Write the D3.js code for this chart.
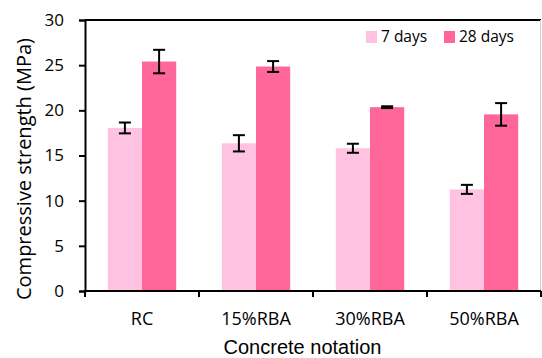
<!DOCTYPE html>
<html>
<head>
<meta charset="utf-8">
<script src="https://cdn.jsdelivr.net/npm/d3@7"></script>
<style>
  body { margin: 0; background: #fff; }
  svg { display: block; }
</style>
</head>
<body>
<svg id="chart" width="542" height="358"></svg>
<script>
// data
const categories = ["RC", "15%RBA", "30%RBA", "50%RBA"];
const seriesNames = ["7 days", "28 days"];
const days7 = [18.05, 16.35, 15.8, 11.25];
const days28 = [25.4, 24.85, 20.35, 19.55];
const err7 = [0.6, 0.9, 0.5, 0.5];
const err28 = [1.3, 0.6, 0.1, 1.25];
const yTicks = [0, 5, 10, 15, 20, 25, 30];
const colors = ["#ffc2e0", "#ff6699"];

const width = 542, height = 358;
const margin = { top: 20, right: 1, bottom: 67, left: 85 };

const svg = d3.select("#chart");

let x = d3.scaleBand().domain(categories).range([margin.left, width - margin.right]).paddingInner(0.4).paddingOuter(0.2);
let xs = d3.scaleBand().domain(seriesNames).range([0, x.bandwidth()]);
let y = d3.scaleLinear().domain([0, 30]).range([height - margin.bottom, margin.top]);

let rows = categories.map((c, i) => ({
  cat: c,
  vals: [
    { s: seriesNames[0], v: days7[i], e: err7[i] },
    { s: seriesNames[1], v: days28[i], e: err28[i] }
  ]
}));

// frame: top line black, right line light grey
svg.append("line").attr("x1", margin.left).attr("x2", width - margin.right)
  .attr("y1", margin.top).attr("y2", margin.top).attr("stroke", "#000").attr("stroke-width", 2);
svg.append("line").attr("x1", width - margin.right - 0.5).attr("x2", width - margin.right - 0.5)
  .attr("y1", margin.top).attr("y2", y(0)).attr("stroke", "#d0d0d0").attr("stroke-width", 1);

// bars
let groups = svg.append("g").selectAll("g").data(rows).join("g")
  .attr("transform", d => `translate(${x(d.cat)},0)`);

groups.selectAll("rect").data(d => d.vals).join("rect")
  .attr("x", d => xs(d.s))
  .attr("y", d => y(d.v))
  .attr("width", xs.bandwidth())
  .attr("height", d => y(0) - y(d.v))
  .attr("fill", (d, i) => colors[i]);

// error bars
let eb = groups.selectAll("g.err").data(d => d.vals).join("g").attr("class", "err")
  .attr("transform", d => `translate(${xs(d.s) + xs.bandwidth() / 2},0)`)
  .attr("stroke", "#000").attr("stroke-width", 2);
eb.append("line").attr("x1", 0).attr("x2", 0).attr("y1", d => y(d.v + d.e)).attr("y2", d => y(d.v - d.e));
eb.append("line").attr("x1", -6).attr("x2", 6).attr("y1", d => y(d.v + d.e)).attr("y2", d => y(d.v + d.e));
eb.append("line").attr("x1", -6).attr("x2", 6).attr("y1", d => y(d.v - d.e)).attr("y2", d => y(d.v - d.e));

// y axis
let yAxis = g => g.attr("transform", `translate(${margin.left},0)`)
  .call(d3.axisLeft(y).tickValues(yTicks).tickSize(6).tickPadding(15))
  .call(g => g.selectAll("path,line").attr("stroke", "#000").attr("stroke-width", 2))
  .call(g => g.selectAll("text").attr("font-family", "Open Sans").attr("font-size", 17).attr("fill", "#000"));
svg.append("g").call(yAxis);

// x axis: ticks at band edges, labels at band centres
let edges = categories.map(c => x(c) - x.step() * x.paddingInner() / 2).concat([width - margin.right]);
svg.append("line").attr("x1", margin.left - 1).attr("x2", width - margin.right)
  .attr("y1", y(0)).attr("y2", y(0)).attr("stroke", "#000").attr("stroke-width", 2);
svg.append("g").selectAll("line").data(edges).join("line")
  .attr("x1", d => d).attr("x2", d => d).attr("y1", y(0)).attr("y2", y(0) + 6)
  .attr("stroke", "#000").attr("stroke-width", 2);
svg.append("g").selectAll("text").data(categories).join("text")
  .attr("x", d => x(d) + x.bandwidth() / 2)
  .attr("y", 325)
  .attr("text-anchor", "middle")
  .attr("font-family", "Open Sans").attr("font-size", 18)
  .text(d => d);

// axis titles
svg.append("text").attr("x", (219 + 386) / 2).attr("y", 354).attr("text-anchor", "middle")
  .attr("font-family", "Liberation Sans").attr("font-size", 20).text("Concrete notation");
svg.append("text").attr("transform", "translate(31,169) rotate(-90)").attr("text-anchor", "middle")
  .attr("font-family", "Open Sans").attr("font-size", 20).text("Compressive strength (MPa)");

// legend
let legend = svg.append("g").selectAll("g").data(seriesNames).join("g")
  .attr("transform", (d, i) => `translate(${[366, 444][i]},31)`);
legend.append("rect").attr("width", 11).attr("height", 12).attr("fill", (d, i) => colors[i]);
legend.append("text").attr("x", 15).attr("y", 11)
  .attr("font-family", "Open Sans").attr("font-size", 15.5).text(d => d);
</script>
</body>
</html>
